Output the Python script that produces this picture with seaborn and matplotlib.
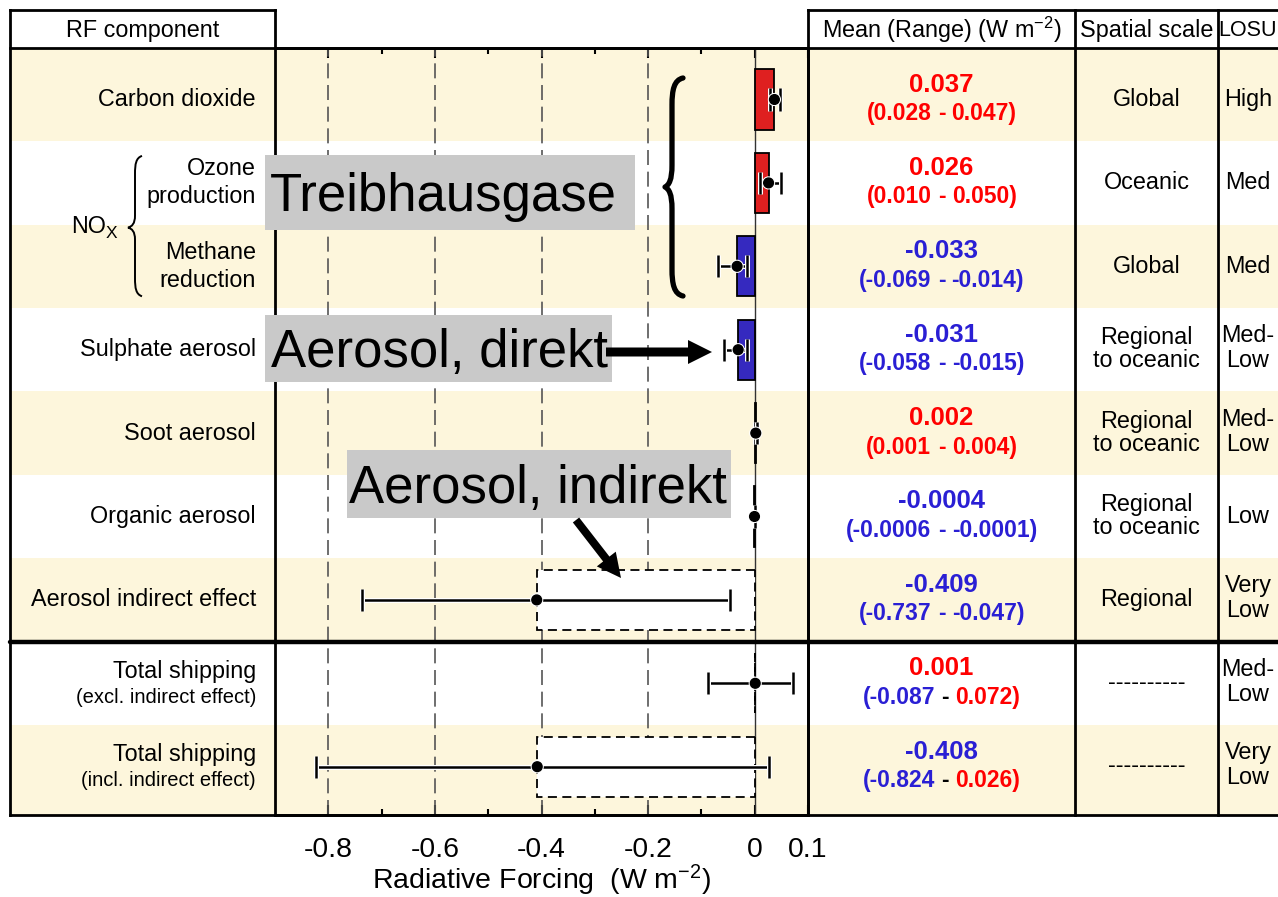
import numpy as np
import pandas as pd
import matplotlib
matplotlib.use("Agg")
import matplotlib.pyplot as plt
import matplotlib.patheffects as pe
import seaborn as sns
from matplotlib.path import Path
from matplotlib.patches import PathPatch, Rectangle, FancyArrow
from matplotlib.offsetbox import TextArea, HPacker, AnnotationBbox

# ---------------------------------------------------------------- data
COMPONENTS = [
    "Carbon dioxide",
    "Ozone production",
    "Methane reduction",
    "Sulphate aerosol",
    "Soot aerosol",
    "Organic aerosol",
    "Aerosol indirect effect",
    "Total shipping (excl. indirect effect)",
    "Total shipping (incl. indirect effect)",
]
MEAN = [0.037, 0.026, -0.033, -0.031, 0.002, -0.0004, -0.409, 0.001, -0.408]
LOW = [0.028, 0.010, -0.069, -0.058, 0.001, -0.0006, -0.737, -0.087, -0.824]
HIGH = [0.047, 0.050, -0.014, -0.015, 0.004, -0.0001, -0.047, 0.072, 0.026]
DECIMALS = [3, 3, 3, 3, 3, 4, 3, 3, 3]
SPATIAL_SCALE = ["Global", "Oceanic", "Global", "Regional\nto oceanic",
                 "Regional\nto oceanic", "Regional\nto oceanic", "Regional",
                 "----------", "----------"]
LOSU = ["High", "Med", "Med", "Med-\nLow", "Med-\nLow", "Low",
        "Very\nLow", "Med-\nLow", "Very\nLow"]
ROW_LABELS = ["Carbon dioxide", "Ozone\nproduction", "Methane\nreduction",
              "Sulphate aerosol", "Soot aerosol", "Organic aerosol",
              "Aerosol indirect effect",
              "Total shipping\n(excl. indirect effect)",
              "Total shipping\n(incl. indirect effect)"]
OPEN_BOX_ROWS = ["Aerosol indirect effect",
                 "Total shipping (excl. indirect effect)",
                 "Total shipping (incl. indirect effect)"]
XTICKS = [-0.8, -0.6, -0.4, -0.2, 0.0, 0.1]
XTICK_LABELS = ["-0.8", "-0.6", "-0.4", "-0.2", "0", "0.1"]
XMINOR = [-0.7, -0.5, -0.3, -0.1]
GRID_AT = [-0.8, -0.6, -0.4, -0.2]

# ---------------------------------------------------------------- style
RED = "#ff0000"
BLUE = "#2010d8"
TXT_BLUE = "#2a1fd4"
CREAM = "#fdf6dc"
GREY_BOX = "#c9c9c9"

sns.set_theme(style="white")
plt.rcParams["font.family"] = ["Liberation Sans", "DejaVu Sans"]
plt.rcParams["mathtext.fontset"] = "custom"
plt.rcParams["mathtext.rm"] = "Liberation Sans"
plt.rcParams["mathtext.it"] = "Liberation Sans:italic"
plt.rcParams["mathtext.bf"] = "Liberation Sans:bold"
plt.rcParams["mathtext.default"] = "regular"
plt.rcParams["axes.unicode_minus"] = False
plt.rcParams["text.color"] = "black"
plt.rcParams["axes.labelcolor"] = "black"
plt.rcParams["xtick.color"] = "black"

# ---------------------------------------------------------------- layout (pixels)
W, H = 1278, 897
TABLE_L, PLOT_L, PLOT_R, COL_SPATIAL, COL_LOSU = 10, 275, 808, 1075, 1218
HEAD_T, HEAD_B, TABLE_B = 10, 48, 815
ROW0, ROW_H = 99.5, 83.4
X_LABEL_RIGHT = 256
X_MEAN = (PLOT_R + COL_SPATIAL) / 2
X_SPATIAL = (COL_SPATIAL + COL_LOSU) / 2
X_LOSU = 1248
FS = 16.8

n = len(COMPONENTS)


def ypx(r):
    return ROW0 + ROW_H * r


fig = plt.figure(figsize=(W / 100, H / 100), dpi=100)
fig.patch.set_facecolor("white")

# background: alternating row stripes
ax_bg = fig.add_axes([0, 0, 1, 1], zorder=0)
ax_bg.set_xlim(0, W)
ax_bg.set_ylim(H, 0)
ax_bg.axis("off")
for i in range(n):
    if i % 2 == 0:
        top = HEAD_B if i == 0 else ypx(i - 0.5)
        bot = TABLE_B if i == n - 1 else ypx(i + 0.5)
        ax_bg.add_patch(Rectangle((TABLE_L, top), W - TABLE_L, bot - top,
                                  facecolor=CREAM, lw=0))

# ---------------------------------------------------------------- forcing panel
ax = fig.add_axes([PLOT_L / W, 1 - TABLE_B / H, (PLOT_R - PLOT_L) / W,
                   (TABLE_B - HEAD_B) / H], zorder=1)
ax.patch.set_alpha(0)

df = pd.DataFrame({"component": COMPONENTS, "mean": MEAN,
                   "low": LOW, "high": HIGH})
palette = {c: ("white" if c in OPEN_BOX_ROWS else (RED if m > 0 else BLUE))
           for c, m in zip(COMPONENTS, MEAN)}

for v in GRID_AT:
    ax.axvline(v, color="#555555", lw=1.2, ls=(0, (9, 4)), zorder=1)
ax.axvline(0, color="#333333", lw=1.0, zorder=2)

sns.barplot(data=df, x="mean", y="component", hue="component",
            palette=palette, order=COMPONENTS, hue_order=COMPONENTS,
            orient="h", width=0.72, edgecolor="black", linewidth=1.3,
            errorbar=None, legend=False, ax=ax, zorder=3)
for patch in ax.patches:
    r = int(round(patch.get_y() + patch.get_height() / 2))
    if COMPONENTS[r] in OPEN_BOX_ROWS:
        patch.set_linestyle((0, (5, 3)))
        patch.set_linewidth(1.3)

rows = np.arange(n)
mean = df["mean"].to_numpy()
xerr = np.vstack([mean - df["low"].to_numpy(), df["high"].to_numpy() - mean])
eb = ax.errorbar(mean, rows, xerr=xerr, fmt="o", color="black", ms=7,
                 capsize=8, capthick=1.8, elinewidth=1.8, zorder=5)
halo = [pe.Stroke(linewidth=3.6, foreground="white"), pe.Normal()]
for cap in eb[1]:
    cap.set_path_effects(halo)
for col in eb[2]:
    col.set_path_effects(halo)
eb[0].set_path_effects([pe.Stroke(linewidth=2.5, foreground="white"), pe.Normal()])

ax.set_xlim(-0.9, 0.1)
ax.set_ylim((TABLE_B - ROW0) / ROW_H, (HEAD_B - ROW0) / ROW_H)
ax.set_xticks(XTICKS)
ax.set_xticklabels(XTICK_LABELS)
ax.set_xticks(XMINOR, minor=True)
ax.set_yticks([])
ax.set_ylabel("")
ax.tick_params(axis="x", which="both", direction="in", top=True, bottom=True,
               labeltop=False, color="black", labelcolor="black",
               labelsize=20.4, pad=15.5)
ax.tick_params(axis="x", which="major", length=7, width=1.5)
ax.tick_params(axis="x", which="minor", length=4, width=1.5)
ax.set_xlabel("Radiative Forcing  (W m$^{-2}$)", fontsize=20.5, labelpad=0.5,
              color="black")
for s in ax.spines.values():
    s.set_visible(True)
    s.set_color("black")
    s.set_linewidth(2)

# ---------------------------------------------------------------- table overlay
ax_t = fig.add_axes([0, 0, 1, 1], zorder=3)
ax_t.set_xlim(0, W)
ax_t.set_ylim(H, 0)
ax_t.axis("off")
ax_t.patch.set_alpha(0)

lk = dict(color="black", lw=2, solid_capstyle="projecting")
ax_t.plot([TABLE_L, PLOT_L], [HEAD_T, HEAD_T], **lk)
ax_t.plot([PLOT_R, W], [HEAD_T, HEAD_T], **lk)
ax_t.plot([TABLE_L, TABLE_L], [HEAD_T, TABLE_B], **lk)
ax_t.plot([PLOT_L, PLOT_L], [HEAD_T, HEAD_B], **lk)
for xv in (PLOT_R, COL_SPATIAL, COL_LOSU):
    ax_t.plot([xv, xv], [HEAD_T, TABLE_B], **lk)
ax_t.plot([TABLE_L, W], [HEAD_B, HEAD_B], **lk)
ax_t.plot([TABLE_L, W], [TABLE_B, TABLE_B], **lk)
ax_t.plot([TABLE_L, W], [ypx(6.5), ypx(6.5)], color="black", lw=3.2)

# headers
hy = (HEAD_T + HEAD_B) / 2 + 1
ax_t.text((TABLE_L + PLOT_L) / 2, hy, "RF component", ha="center", va="center", fontsize=FS)
ax_t.text(X_MEAN, hy, "Mean (Range) (W m$^{-2}$)", ha="center", va="center", fontsize=FS)
ax_t.text(X_SPATIAL, hy, "Spatial scale", ha="center", va="center", fontsize=FS)
ax_t.text(X_LOSU, hy, "LOSU", ha="center", va="center", fontsize=15.5)


def stacked(x, yc, text, ha="center", sizes=(FS, FS), dy=(-12, 12), **kw):
    lines = text.split("\n")
    if len(lines) == 1:
        ax_t.text(x, yc, lines[0], ha=ha, va="center", fontsize=sizes[0], **kw)
    else:
        for line, d, s in zip(lines, dy, sizes):
            ax_t.text(x, yc + d, line, ha=ha, va="center", fontsize=s, **kw)


# component labels
for i, lab in enumerate(ROW_LABELS):
    if i in (1, 2):
        stacked(X_LABEL_RIGHT, ypx(i), lab, ha="right", dy=(-14, 14))
    elif i >= 7:
        stacked(X_LABEL_RIGHT, ypx(i), lab, ha="right", sizes=(FS, 14.5), dy=(-12, 14))
    else:
        stacked(X_LABEL_RIGHT, ypx(i), lab, ha="right")

# NOx group with brace
ny = ypx(1.5) + 3
ax_t.text(106, ny - 1, "NO", ha="right", va="center", fontsize=FS)
ax_t.text(106, ny + 6, "X", ha="left", va="center", fontsize=12.5)
bx, top, bot = 135, ypx(1) - 27, ypx(2) + 30
brace_small = Path(
    [(bx + 7, top), (bx + 1, top + 2), (bx, top + 8), (bx, top + 18),
     (bx, ny - 12),
     (bx, ny - 4), (bx - 3, ny - 1), (bx - 7, ny),
     (bx - 3, ny + 1), (bx, ny + 4), (bx, ny + 12),
     (bx, bot - 18),
     (bx, bot - 8), (bx + 1, bot - 2), (bx + 7, bot)],
    [Path.MOVETO, Path.CURVE4, Path.CURVE4, Path.CURVE4, Path.LINETO,
     Path.CURVE4, Path.CURVE4, Path.CURVE4, Path.CURVE4, Path.CURVE4,
     Path.CURVE4, Path.LINETO, Path.CURVE4, Path.CURVE4, Path.CURVE4])
ax_t.add_patch(PathPatch(brace_small, fill=False, lw=1.4, color="black"))


# mean and range column
def fmt(v, d):
    return f"{v:.{d}f}"


def sign_color(v):
    return RED if v >= 0 else TXT_BLUE


for i in range(n):
    d = DECIMALS[i]
    ax_t.text(X_MEAN, ypx(i) - 15, fmt(MEAN[i], d), ha="center", va="center",
              fontsize=18.5, fontweight="bold", color=sign_color(MEAN[i]))
    c_lo, c_hi = sign_color(LOW[i]), sign_color(HIGH[i])
    c_dash = c_lo if c_lo == c_hi else "black"
    props = dict(fontsize=16.5, fontweight="bold")
    parts = [TextArea("(" + fmt(LOW[i], d), textprops=dict(color=c_lo, **props)),
             TextArea("-", textprops=dict(color=c_dash, **props)),
             TextArea(fmt(HIGH[i], d) + ")", textprops=dict(color=c_hi, **props))]
    box = HPacker(children=parts, pad=0, sep=4.6, align="baseline")
    ax_t.add_artist(AnnotationBbox(box, (X_MEAN, ypx(i) + 14), xycoords="data",
                                   frameon=False, box_alignment=(0.5, 0.5), pad=0))

# spatial scale and LOSU columns
for i in range(n):
    stacked(X_SPATIAL, ypx(i) - (1 if SPATIAL_SCALE[i].startswith("-") else 0),
            SPATIAL_SCALE[i], dy=(-12, 11))
    stacked(X_LOSU, ypx(i), LOSU[i], dy=(-14, 11))

# ---------------------------------------------------------------- annotations
bx, top, bot = 672, 78, 296
mid = (top + bot) / 2
brace_big = Path(
    [(bx + 11, top), (bx + 2, top + 2), (bx, top + 12), (bx, top + 27),
     (bx, mid - 22),
     (bx, mid - 7), (bx - 3, mid - 2), (bx - 7, mid),
     (bx - 3, mid + 2), (bx, mid + 7), (bx, mid + 22),
     (bx, bot - 27),
     (bx, bot - 12), (bx + 2, bot - 2), (bx + 11, bot)],
    [Path.MOVETO, Path.CURVE4, Path.CURVE4, Path.CURVE4, Path.LINETO,
     Path.CURVE4, Path.CURVE4, Path.CURVE4, Path.CURVE4, Path.CURVE4,
     Path.CURVE4, Path.LINETO, Path.CURVE4, Path.CURVE4, Path.CURVE4])
ax_t.add_patch(PathPatch(brace_big, fill=False, lw=3.8, color="black",
                         capstyle="round", joinstyle="round", zorder=6))

notes = [
    ("Treibhausgase", (265, 155, 370, 75), 270),
    ("Aerosol, direkt", (265, 315, 347, 67), 271),
    ("Aerosol, indirekt", (347, 450, 384, 68), 349),
]
for label, (x0, y0, w, h), tx in notes:
    ax_t.add_patch(Rectangle((x0, y0), w, h, facecolor=GREY_BOX, lw=0, zorder=7))
    ax_t.text(tx, y0 + h / 2 + 19, label, ha="left", va="baseline",
              fontsize=38, color="black", zorder=8)

ax_t.add_patch(FancyArrow(606, 352, 106, 0, width=9, head_width=24,
                          head_length=24, length_includes_head=True,
                          color="black", lw=0, zorder=8))
ax_t.add_patch(FancyArrow(576, 520, 45, 58, width=8, head_width=24,
                          head_length=24, length_includes_head=True,
                          color="black", lw=0, zorder=8))

fig.savefig("out.png", dpi=100)
